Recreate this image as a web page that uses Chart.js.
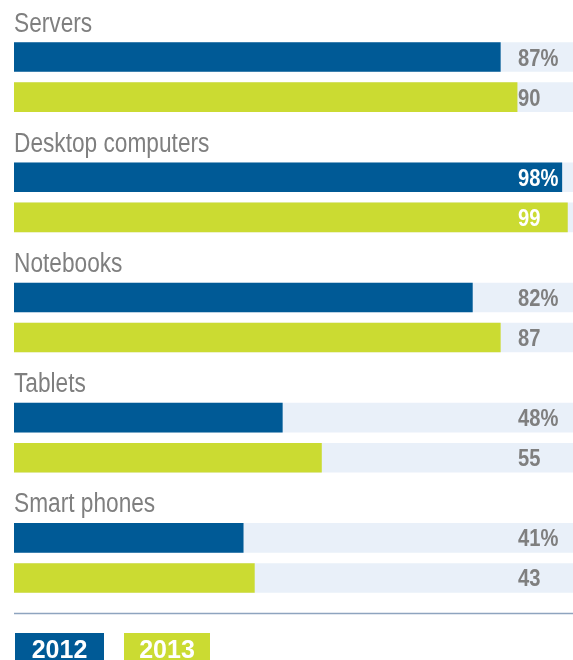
<!DOCTYPE html>
<html>
<head>
<meta charset="utf-8">
<title>Device usage 2012 / 2013</title>
<script src="https://cdn.jsdelivr.net/npm/chart.js@4.4.0/dist/chart.umd.min.js"></script>
<style>
  body { margin: 0; background: #fff; }
  .wrap { position: relative; width: 573px; height: 660px; overflow: hidden; }
  #legend { position: absolute; left: 15px; top: 633px; display: flex; }
  #legend span {
    display: block;
    height: 32px;
    margin-right: 20px;
    color: #fff;
    font: bold 25px "Liberation Sans", Arial, sans-serif;
    line-height: 32px;
    text-align: center;
  }
</style>
</head>
<body>
<div class="wrap">
  <canvas id="usageChart" width="573" height="660"></canvas>
  <div id="legend"></div>
</div>
<script>
const categories = ['Servers', 'Desktop computers', 'Notebooks', 'Tablets', 'Smart phones'];
const years = ['2012', '2013'];
const values2012 = [87, 98, 82, 48, 41];
const values2013 = [90, 99, 87, 55, 43];
const fullScale = 100;

const blue = '#005a96';
const lime = '#cbdb32';
const track = '#e9f0f9';
const textGray = '#7f7f7f';
const labelFont = '"Liberation Sans", Arial, sans-serif';
const narrow = 0.84; // horizontal squeeze to get a condensed look

// one row per bar, with an empty row between groups for the group title
const rowLabels = [];
const rows2012 = [];
const rows2013 = [];
const rowsTrack = [];
categories.forEach((name, i) => {
    if (i > 0) {
        rowLabels.push('');
        rows2012.push(null);
        rows2013.push(null);
        rowsTrack.push(null);
    }
    rowLabels.push(name + ' ' + years[0]);
    rows2012.push(values2012[i]);
    rows2013.push(null);
    rowsTrack.push(fullScale);

    rowLabels.push(name + ' ' + years[1]);
    rows2012.push(null);
    rows2013.push(values2013[i]);
    rowsTrack.push(fullScale);
});

function narrowText(ctx, text, x, y) {
    ctx.save();
    ctx.translate(x, y);
    ctx.scale(narrow, 1);
    ctx.fillText(text, 0, 0);
    ctx.restore();
}

const groupTitles = {
    id: 'groupTitles',
    afterDatasetsDraw(chart) {
        const ctx = chart.ctx;
        const yScale = chart.scales.y;
        const barHalf = 14.5;
        ctx.save();
        ctx.font = '27px ' + labelFont;
        ctx.fillStyle = textGray;
        ctx.textAlign = 'left';
        ctx.textBaseline = 'alphabetic';
        categories.forEach((name, i) => {
            const y = yScale.getPixelForValue(i * 3) - barHalf - 11;
            narrowText(ctx, name, chart.chartArea.left, y);
        });

        // rule under the plot
        ctx.strokeStyle = '#8ea4bf';
        ctx.lineWidth = 1.5;
        ctx.beginPath();
        ctx.moveTo(chart.chartArea.left, chart.chartArea.bottom + 15.5);
        ctx.lineTo(chart.chartArea.right, chart.chartArea.bottom + 15.5);
        ctx.stroke();
        ctx.restore();
    }
};

const valueLabels = {
    id: 'valueLabels',
    afterDatasetsDraw(chart) {
        const ctx = chart.ctx;
        const labelX = chart.chartArea.right - 55;
        ctx.save();
        ctx.font = 'bold 24px ' + labelFont;
        ctx.textAlign = 'left';
        ctx.textBaseline = 'alphabetic';
        chart.data.datasets.forEach((ds, di) => {
            if (!years.includes(ds.label)) return;
            const meta = chart.getDatasetMeta(di);
            meta.data.forEach((bar, idx) => {
                const v = ds.data[idx];
                if (v == null) return;
                const text = ds.label === years[0] ? v + '%' : String(v);
                const w = ctx.measureText(text).width * narrow;
                ctx.fillStyle = bar.x > labelX + w ? '#ffffff' : textGray;
                narrowText(ctx, text, labelX, bar.y + 8.5);
            });
        });
        ctx.restore();
    }
};

const ctx = document.getElementById('usageChart').getContext('2d');
const usageChart = new Chart(ctx, {
    type: 'bar',
    data: {
        labels: rowLabels,
        datasets: [
            {
                label: years[0],
                data: rows2012,
                backgroundColor: blue,
                order: 1
            },
            {
                label: years[1],
                data: rows2013,
                backgroundColor: lime,
                order: 1
            },
            {
                label: 'track',
                data: rowsTrack,
                backgroundColor: track,
                order: 2
            }
        ]
    },
    options: {
        indexAxis: 'y',
        responsive: false,
        animation: false,
        datasets: {
            bar: {
                grouped: false,
                barThickness: 29,
                borderWidth: 0
            }
        },
        layout: {
            padding: { top: 37, bottom: 62, left: 14, right: 0 }
        },
        scales: {
            x: { display: false, min: 0, max: fullScale },
            y: { display: false }
        },
        plugins: {
            legend: { display: false },
            tooltip: { enabled: false }
        }
    },
    plugins: [groupTitles, valueLabels]
});

// year legend under the rule
const legendEl = document.getElementById('legend');
const legendWidths = [89, 86];
usageChart.data.datasets.forEach(ds => {
    const i = years.indexOf(ds.label);
    if (i < 0) return;
    const item = document.createElement('span');
    item.textContent = ds.label;
    item.style.background = ds.backgroundColor;
    item.style.width = legendWidths[i] + 'px';
    legendEl.appendChild(item);
});
</script>
</body>
</html>
